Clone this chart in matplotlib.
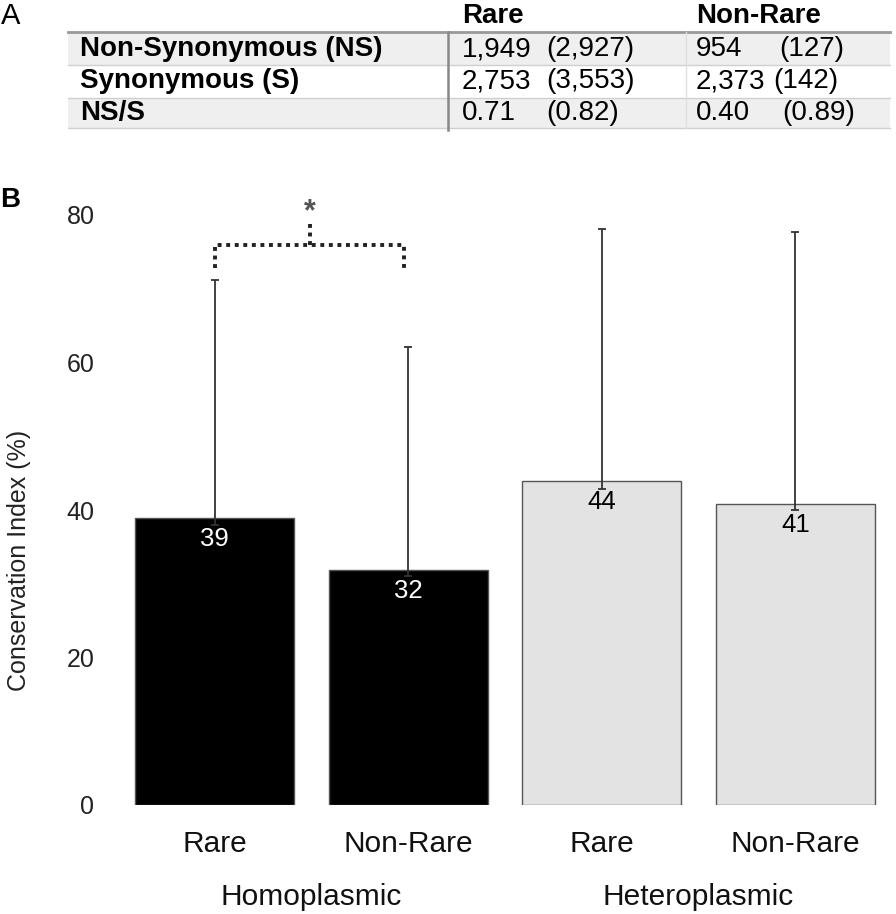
import numpy as np
import matplotlib
matplotlib.use("Agg")
import matplotlib.pyplot as plt
from matplotlib.patches import Rectangle
from matplotlib.lines import Line2D

plt.rcParams['font.family'] = ['Liberation Sans', 'DejaVu Sans']

# panel B data
categories = ["Rare", "Non-Rare", "Rare", "Non-Rare"]
groups = ["Homoplasmic", "Heteroplasmic"]
ci_mean = [38.9, 31.9, 44.0, 40.8]
ci_labels = ["39", "32", "44", "41"]
err_upper = [71.2, 62.1, 78.1, 77.7]
err_lower = [38.0, 31.0, 42.85, 40.0]
bar_colors = ["black", "black", "#e3e3e3", "#e3e3e3"]
label_colors = ["white", "white", "black", "black"]

# panel A table
col_headers = ["Rare", "Non-Rare"]
row_labels = ["Non-Synonymous (NS)", "Synonymous (S)", "NS/S"]
rare_vals = ["1,949", "2,753", "0.71"]
rare_paren = ["(2,927)", "(3,553)", "(0.82)"]
nonrare_vals = ["954", "2,373", "0.40"]
nonrare_paren = ["(127)", "(142)", "(0.89)"]

W, H = 896, 914
fig = plt.figure(figsize=(W / 100, H / 100), dpi=100)


def fx(px):
    return px / W


def fy(py):
    return 1 - py / H


# ---- panel A: table ----
fig.text(fx(1), fy(16), "A", fontsize=21, va="center", ha="left")
row_top = [32, 65, 98]
row_bot = [65, 98, 128]
for i in range(3):
    if i != 1:
        fig.add_artist(Rectangle((fx(68), fy(row_bot[i])), fx(890) - fx(68),
                                 fy(row_top[i]) - fy(row_bot[i]),
                                 transform=fig.transFigure, facecolor="#efefef",
                                 edgecolor="none", zorder=0))
for yy in [65, 98, 128]:
    fig.add_artist(Line2D([fx(68), fx(890)], [fy(yy), fy(yy)], transform=fig.transFigure,
                          color="#d0d0d0", lw=1))
fig.add_artist(Line2D([fx(68), fx(890)], [fy(32), fy(32)], transform=fig.transFigure,
                      color="#999999", lw=2))
fig.add_artist(Line2D([fx(448), fx(448)], [fy(32), fy(130)], transform=fig.transFigure,
                      color="#888888", lw=1.8))
fig.add_artist(Line2D([fx(686), fx(686)], [fy(32), fy(128)], transform=fig.transFigure,
                      color="#e0e0e0", lw=1))

tsize = 20
fig.text(fx(462), fy(16), col_headers[0], fontsize=tsize, fontweight="bold", va="center")
fig.text(fx(696), fy(16), col_headers[1], fontsize=tsize, fontweight="bold", va="center")
row_y = [49, 81, 113]
nonrare_px = [779, 773, 782]
for i in range(3):
    yc = fy(row_y[i])
    fig.text(fx(80), yc, row_labels[i], fontsize=tsize, fontweight="bold", va="center")
    fig.text(fx(462), yc, rare_vals[i], fontsize=tsize, va="center")
    fig.text(fx(546), yc, rare_paren[i], fontsize=tsize, va="center")
    fig.text(fx(696), yc, nonrare_vals[i], fontsize=tsize, va="center")
    fig.text(fx(nonrare_px[i]), yc, nonrare_paren[i], fontsize=tsize, va="center")

# ---- panel B: bar chart ----
fig.text(fx(0), fy(200), "B", fontsize=20, fontweight="bold", va="center", ha="left")

ax = fig.add_axes([fx(118), fy(805), fx(892) - fx(118), fy(215) - fy(805)])
x = np.arange(len(categories))
ax.bar(x, ci_mean, width=0.82, color=bar_colors, edgecolor="#555555", linewidth=1, zorder=2)

mean = np.array(ci_mean)
yerr = [mean - np.array(err_lower), np.array(err_upper) - mean]
ax.errorbar(x, mean, yerr=yerr, fmt="none", ecolor="#333333", elinewidth=1.3,
            capsize=3, capthick=1.3, zorder=3)

for xi, m, lab, c in zip(x, ci_mean, ci_labels, label_colors):
    ax.annotate(lab, (xi, m), xytext=(0, -6.5), textcoords="offset points",
                ha="center", va="top", fontsize=18.5, color=c, zorder=4)

ax.set_xlim(-0.5, 3.5)
ax.set_ylim(0, 80)
ax.set_yticks([0, 20, 40, 60, 80])
ax.tick_params(axis="y", length=0, pad=17, labelsize=18, labelcolor="#222222")
ax.set_xticks(x)
ax.set_xticklabels(categories)
ax.tick_params(axis="x", length=0, pad=18, labelsize=21.5, labelcolor="#111111")
for s in ax.spines.values():
    s.set_visible(False)
ax.set_ylabel("Conservation Index (%)", fontsize=18, color="#222222")
ax.yaxis.set_label_coords(-0.112, 0.415)

ax.text(0.5, -0.156, groups[0], transform=ax.get_xaxis_transform(), ha="center",
        va="center", fontsize=21.5, color="#111111")
ax.text(2.5, -0.156, groups[1], transform=ax.get_xaxis_transform(), ha="center",
        va="center", fontsize=21.5, color="#111111")

# significance bracket
br_kw = dict(color="#222222", lw=2.8, linestyle=(0, (1, 1.2)), dash_capstyle="butt",
             clip_on=False, zorder=5)
ax.plot([0, 0, 0.98, 0.98], [72.8, 75.9, 75.9, 72.8], **br_kw)
ax.plot([0.49, 0.49], [75.9, 78.9], **br_kw)
ax.text(0.49, 79.3, "*", ha="center", va="baseline", fontsize=22, color="#555555",
        fontweight="bold", clip_on=False)

fig.savefig("out.png", dpi=100)
